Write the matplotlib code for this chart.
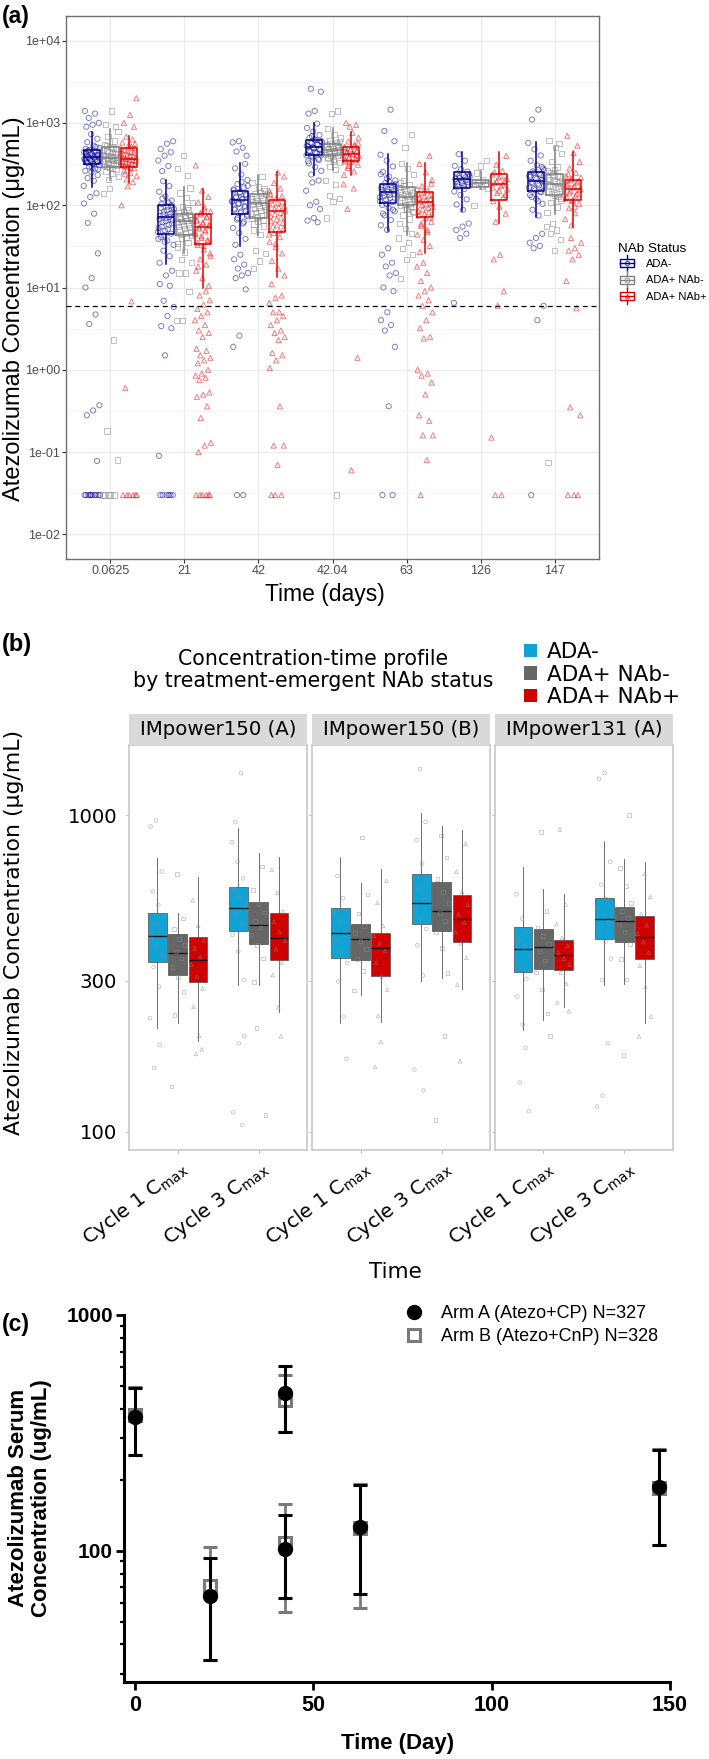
import matplotlib

matplotlib.use("Agg")
import matplotlib.pyplot as plt
import numpy as np
from matplotlib.legend_handler import HandlerBase
from matplotlib.lines import Line2D
from matplotlib.patches import Patch, Rectangle
from matplotlib.ticker import FixedLocator, NullLocator

plt.rcParams["font.family"] = ["Liberation Sans", "DejaVu Sans"]

FIG_W, FIG_H = 709, 1759  # pixels, dpi 100

# ---------------------------------------------------------------- panel (a)
A_TIMES = ["0.0625", "21", "42", "42.04", "63", "126", "147"]
STATUS = ["ADA-", "ADA+ NAb-", "ADA+ NAb+"]
A_YTICKS = [1e-2, 1e-1, 1e0, 1e1, 1e2, 1e3, 1e4]
A_YTICK_LABELS = ["1e-02", "1e-01", "1e+00", "1e+01", "1e+02", "1e+03", "1e+04"]
LLOQ = 6.0

# (q1, median, q3, whisker low, whisker high) per time point
A_BOX_ADANEG = [(320, 390, 470, 167, 776), (45, 72, 100, 19.5, 200), (79, 115, 150, 32, 324),
                (404, 510, 615, 230, 1000), (107, 145, 183, 48, 417), (162, 207, 253, 85, 444),
                (148, 197, 253, 72, 588)]
A_BOX_NABNEG = [(292, 380, 513, 200, 855), (43, 65, 79, 26, 166), (69, 105, 138, 43, 230),
                (404, 474, 562, 265, 860), (100, 126, 166, 43, 326), (166, 186, 200, 158, 260),
                (132, 183, 243, 79, 510)]
A_BOX_NABPOS = [(292, 360, 500, 186, 689), (34, 54, 78, 10, 158), (47, 85, 115, 13.4, 253),
                (345, 417, 510, 230, 776), (72, 108, 144, 26, 326), (117, 180, 238, 60, 444),
                (115, 159, 205, 55, 444)]

A_PTS_ADANEG = [
    [172, 198, 214, 233, 251, 262, 279, 296, 308, 321, 334, 347, 352, 366, 381, 389, 402, 417,
     431, 452, 468, 497, 531, 584, 642, 731, 1400, 1300, 1150, 1000, 950, 900, 140, 126, 105,
     79, 61, 26, 13, 10, 4.7, 3.6, 0.37, 0.32, 0.28, 0.078] + [0.03] * 10,
    [20, 24, 28, 33, 37, 41, 45, 49, 53, 58, 62, 66, 70, 74, 79, 84, 90, 96, 103, 114, 128, 146,
     171, 196, 600, 560, 480, 440, 400, 350, 300, 260, 16, 14, 11, 10.5, 6.9, 5.8, 4.5, 3.4,
     3.2, 1.5, 0.09] + [0.03] * 6,
    [33, 39, 46, 53, 60, 67, 74, 81, 88, 95, 103, 110, 117, 124, 132, 141, 151, 164, 181, 203,
     236, 281, 318, 600, 580, 500, 450, 400, 25, 22, 19, 17, 15, 14, 13, 9.5, 2.6, 1.9, 0.03,
     0.03],
    [236, 262, 291, 322, 354, 381, 405, 428, 451, 473, 495, 518, 541, 566, 592, 621, 659, 713,
     784, 871, 982, 2600, 2400, 1400, 1300, 200, 190, 150, 110, 100, 90, 70, 65, 62],
    [50, 57, 66, 75, 84, 93, 101, 109, 117, 125, 133, 141, 149, 157, 166, 175, 186, 201, 223,
     254, 296, 349, 411, 1450, 800, 600, 30, 25, 20, 18, 15, 14, 10, 9, 5, 4, 3.5, 3, 1.9,
     0.36, 0.03, 0.03],
    [88, 102, 118, 133, 147, 158, 168, 177, 186, 195, 204, 213, 222, 232, 243, 256, 274, 301,
     347, 418, 60, 55, 50, 45, 40, 6.5],
    [75, 88, 104, 119, 133, 146, 158, 170, 181, 192, 203, 215, 228, 242, 258, 279, 307, 348,
     402, 478, 571, 1450, 1100, 45, 40, 35, 32, 30, 6, 4, 0.03],
]
A_PTS_NABNEG = [
    [205, 221, 243, 259, 276, 288, 301, 317, 329, 346, 358, 372, 385, 398, 414, 436, 457, 482,
     511, 548, 603, 688, 794, 1400, 950, 900, 160, 140, 2.3, 0.18, 0.08] + [0.03] * 5,
    [27, 31, 35, 39, 43, 46, 50, 54, 57, 61, 65, 68, 72, 76, 81, 88, 97, 109, 124, 141, 162,
     400, 280, 230, 22, 20, 15, 15, 9, 4, 4],
    [44, 50, 56, 63, 69, 75, 82, 89, 95, 102, 108, 115, 122, 130, 139, 151, 167, 189, 222, 28,
     26, 21, 17],
    [271, 298, 327, 356, 382, 405, 426, 447, 466, 484, 505, 527, 551, 578, 611, 655, 722, 851,
     1400, 1300, 200, 180, 130, 120, 110, 70, 0.03],
    [45, 52, 60, 68, 76, 84, 92, 99, 106, 113, 120, 127, 135, 143, 152, 163, 178, 201, 236, 281,
     322, 730, 500, 40, 35, 30, 25, 22, 13],
    [161, 170, 178, 184, 189, 194, 203, 247, 350, 300, 100],
    [82, 95, 108, 121, 133, 146, 158, 170, 182, 194, 207, 222, 239, 261, 292, 338, 421, 503,
     615, 560, 60, 55, 50, 45, 38, 28, 0.075],
]
A_PTS_NABPOS = [
    [191, 207, 226, 248, 263, 281, 294, 306, 319, 333, 347, 358, 371, 389, 404, 423, 448, 472,
     498, 536, 578, 629, 681, 2000, 1250, 1000, 900, 170, 100, 6.8, 0.6] + [0.03] * 6,
    [10.5, 13, 16, 19, 22, 26, 29, 33, 36, 40, 44, 48, 52, 56, 60, 65, 71, 77, 84, 95, 108, 126,
     151, 305, 9, 8, 7, 6.2, 5.5, 5, 4.5, 4, 3.5, 3, 2.8, 2.5, 1.8, 1.7, 1.5, 1.4, 1.3, 1.2,
     1.0, 0.9, 0.85, 0.8, 0.75, 0.53, 0.5, 0.47, 0.36, 0.26, 0.13, 0.12, 0.1] + [0.03] * 6,
    [14, 17, 21, 26, 31, 36, 41, 46, 52, 58, 64, 71, 78, 86, 94, 103, 111, 122, 138, 159, 187,
     224, 250, 11, 8, 7.5, 6.5, 5, 5, 4.5, 4, 3.5, 3, 2.8, 2.5, 2.3, 1.6, 1.5, 1.3, 1.05, 0.36,
     0.12, 0.12, 0.07, 0.03, 0.03, 0.03],
    [234, 258, 284, 311, 336, 352, 371, 389, 406, 423, 441, 462, 486, 512, 547, 596, 664, 759,
     1000, 950, 900, 180, 160, 90, 1.4, 0.06],
    [27, 32, 38, 44, 50, 56, 63, 69, 75, 82, 89, 96, 103, 111, 119, 128, 138, 151, 171, 203,
     251, 318, 400, 20, 18, 15, 12, 10, 9, 8, 7, 6, 5, 4, 3.2, 2.5, 2.4, 1.0, 0.9, 0.85, 0.7,
     0.5, 0.28, 0.24, 0.16, 0.16, 0.08, 0.03],
    [63, 79, 96, 112, 126, 141, 156, 171, 186, 201, 218, 236, 262, 311, 398, 25, 22, 9, 6, 0.15,
     0.03, 0.03],
    [57, 68, 80, 92, 104, 115, 126, 137, 148, 159, 170, 182, 195, 209, 226, 248, 281, 336, 431,
     700, 530, 40, 35, 30, 28, 25, 22, 12, 5.6, 0.35, 0.28, 0.03, 0.03, 0.03],
]
# further readings inside the densely packed middle of each cloud
A_CORE_ADANEG = [
    [312, 327, 338, 343, 356, 361, 373, 378, 394, 398, 409, 423, 438, 446, 461, 274, 289, 483, 512],
    [43, 47, 51, 55, 60, 64, 68, 72, 77, 82, 87, 93, 99, 36, 39, 108, 121],
    [77, 84, 91, 98, 106, 113, 120, 127, 136, 145, 156, 63, 70, 172, 192],
    [398, 412, 437, 459, 481, 503, 526, 551, 578, 604, 633, 343, 367, 688],
    [104, 112, 121, 129, 137, 145, 153, 161, 170, 180, 193, 79, 88, 213, 238],
    [171, 182, 191, 200, 209, 218, 227, 238],
    [144, 152, 163, 174, 186, 198, 209, 221, 235, 249, 267, 112, 126, 291],
]
A_CORE_NABNEG = [
    [282, 295, 309, 323, 337, 351, 365, 378, 392, 406, 421, 444, 469, 497, 528],
    [41, 44, 48, 52, 55, 59, 63, 66, 70, 74, 78, 84, 34, 93],
    [66, 72, 79, 86, 92, 98, 105, 112, 119, 126, 134, 143, 59, 158],
    [398, 415, 431, 452, 471, 492, 516, 539, 566, 594, 341, 369],
    [96, 103, 110, 117, 124, 131, 139, 147, 157, 171, 81, 88, 190],
    [],
    [128, 139, 151, 164, 176, 188, 201, 214, 229, 248, 116, 271],
]
A_CORE_NABPOS = [
    [286, 299, 313, 326, 340, 353, 366, 381, 396, 412, 436, 461, 487, 517, 242, 557],
    [32, 35, 38, 42, 46, 50, 54, 58, 62, 67, 73, 80, 24, 89, 18],
    [44, 49, 55, 61, 67, 74, 81, 89, 97, 106, 118, 129, 34, 148],
    [341, 357, 378, 397, 414, 431, 451, 473, 496, 523, 301, 566],
    [71, 78, 85, 93, 100, 107, 115, 123, 132, 143, 158, 47, 59, 183],
    [133, 149, 164, 178, 193, 209, 226, 251],
    [112, 121, 131, 142, 153, 164, 176, 188, 201, 217, 96, 238],
]

# ---------------------------------------------------------------- panel (b)
B_PANELS = ["IMpower150 (A)", "IMpower150 (B)", "IMpower131 (A)"]
B_XLABELS = ["Cycle 1 C$_{\\mathregular{max}}$", "Cycle 3 C$_{\\mathregular{max}}$"]
B_YTICKS = [100, 300, 1000]

# [panel][cycle] -> (q1, median, q3, whisker low, whisker high)
B_BOX_ADANEG = [[(344, 415, 492, 212, 733), (431, 509, 592, 290, 908)],
                [(353, 424, 509, 220, 735), (452, 526, 652, 298, 1016)],
                [(319, 378, 442, 209, 684), (407, 470, 546, 290, 830)]]
B_BOX_NABNEG = [[(312, 367, 421, 221, 492), (392, 450, 532, 290, 760)],
                [(348, 405, 453, 270, 611), (431, 498, 614, 305, 925)],
                [(327, 382, 435, 225, 582), (398, 463, 514, 292, 724)]]
B_BOX_NABPOS = [[(297, 348, 411, 194, 635), (348, 408, 490, 239, 738)],
                [(310, 381, 424, 222, 676), (398, 469, 559, 282, 897)],
                [(324, 361, 403, 248, 562), (351, 411, 480, 221, 713)]]

B_PTS_ADANEG = [
    [[228, 287, 331, 362, 388, 407, 429, 456, 478, 521, 574, 662, 960, 920, 188, 159],
     [302, 371, 418, 452, 489, 517, 548, 583, 631, 712, 821, 1357, 950, 200, 190, 115, 105]],
    [[231, 298, 341, 371, 402, 431, 462, 497, 546, 641, 170],
     [311, 388, 437, 472, 509, 541, 583, 631, 702, 833, 951, 1397, 157, 135]],
    [[218, 267, 304, 332, 357, 381, 402, 428, 471, 562, 184, 143, 116],
     [301, 352, 398, 431, 459, 482, 511, 542, 603, 712, 1357, 1300, 190, 130, 120]],
]
B_PTS_NABNEG = [
    [[234, 276, 308, 331, 352, 371, 389, 406, 437, 471, 650, 139],
     [297, 352, 389, 418, 441, 463, 492, 524, 581, 688, 212, 113]],
    [[279, 322, 351, 378, 401, 424, 447, 489, 561, 850],
     [317, 381, 426, 462, 491, 527, 572, 628, 734, 862, 109, 200]],
    [[236, 281, 318, 347, 371, 392, 414, 441, 497, 886, 200],
     [302, 351, 392, 428, 451, 472, 497, 528, 598, 681, 1000, 175]],
]
B_PTS_NABPOS = [
    [[201, 248, 283, 309, 337, 356, 379, 402, 447, 538, 182, 176],
     [247, 312, 341, 377, 402, 428, 461, 497, 569, 671, 200]],
    [[232, 281, 309, 341, 372, 393, 415, 447, 528, 619, 192, 160],
     [291, 354, 392, 427, 458, 486, 521, 571, 662, 811, 167]],
    [[256, 293, 318, 337, 352, 368, 387, 409, 452, 521, 900, 240],
     [231, 287, 334, 368, 397, 421, 449, 487, 551, 652, 200]],
]

# ---------------------------------------------------------------- panel (c)
C_DAY = [0.0625, 21, 42, 42.04, 63, 147]
C_ARM_A_MEAN = [370, 64, 102, 465, 126, 186]
C_ARM_A_LOW = [255, 34.4, 62.8, 320, 65.5, 106]
C_ARM_A_HIGH = [489, 93.4, 142, 608, 190, 267]
C_ARM_B_MEAN = [376, 70.5, 108, 435, 125, 185]
C_ARM_B_LOW = [255, 34.4, 55, 320, 57, 106]
C_ARM_B_HIGH = [494, 104, 158, 556, 191, 270]
C_LABELS = ["Arm A (Atezo+CP) N=327", "Arm B (Atezo+CnP) N=328"]

A_COLORS = ["#00008B", "#808080", "#E00000"]
B_COLORS = ["#0FA3D6", "#666666", "#D00000"]
MARKERS = ["o", "s", "^"]
DODGE = 0.25


def rect(left, top, right, bottom):
    return [left / FIG_W, 1 - bottom / FIG_H, (right - left) / FIG_W, (bottom - top) / FIG_H]


def fx(px):
    return px / FIG_W


def fy(py):
    return 1 - py / FIG_H


def jitter(n, half_width, phase):
    k = np.arange(n)
    return ((k * 0.618034 + phase) % 1.0 - 0.5) * 2 * half_width


def box_stats(t):
    q1, med, q3, lo, hi = t
    return dict(q1=q1, med=med, q3=q3, whislo=lo, whishi=hi, fliers=[])


class BoxKey(HandlerBase):
    def create_artists(self, legend, orig_handle, xdescent, ydescent, width, height, fontsize, trans):
        c = orig_handle.get_color()
        x0, y0 = -xdescent, -ydescent
        cx = x0 + width / 2
        kw = dict(color=c, lw=1.0, transform=trans)
        box = Rectangle((x0 + 0.1 * width, y0 + 0.25 * height), 0.8 * width, 0.5 * height,
                        facecolor="white", edgecolor=c, lw=1.0, transform=trans)
        return [
            box,
            Line2D([cx, cx], [y0, y0 + 0.25 * height], **kw),
            Line2D([cx, cx], [y0 + 0.75 * height, y0 + height], **kw),
            Line2D([x0 + 0.1 * width, x0 + 0.9 * width], [y0 + 0.5 * height] * 2, **kw),
            Line2D([cx], [y0 + 0.5 * height], marker=orig_handle.get_marker(), ms=3,
                   mfc="none", mec=c, alpha=0.6, transform=trans),
        ]


fig = plt.figure(figsize=(FIG_W / 100, FIG_H / 100), dpi=100)

# ================================================================ (a)
ax_a = fig.add_axes(rect(66, 16, 599, 559))
ax_a.set_yscale("log")
a_boxes = [A_BOX_ADANEG, A_BOX_NABNEG, A_BOX_NABPOS]
a_points = [A_PTS_ADANEG, A_PTS_NABNEG, A_PTS_NABPOS]
a_core = [A_CORE_ADANEG, A_CORE_NABNEG, A_CORE_NABPOS]
for i in range(len(A_TIMES)):
    for j in range(len(STATUS)):
        pos = i + (j - 1) * DODGE
        vals = np.asarray(a_points[j][i] + a_core[j][i], dtype=float)
        xs = pos + jitter(len(vals), 0.11, 0.37 * (3 * i + j))
        ax_a.scatter(xs, vals, marker=MARKERS[j], facecolors="none", edgecolors=A_COLORS[j],
                     s=14, linewidths=0.7, alpha=0.5, zorder=2)
        props = dict(color=A_COLORS[j], linewidth=1.1)
        ax_a.bxp([box_stats(a_boxes[j][i])], positions=[pos], widths=0.22, showcaps=False,
                 showfliers=False, boxprops=props, whiskerprops=props, medianprops=props,
                 manage_ticks=False, zorder=3)

ax_a.axhline(LLOQ, color="black", lw=0.9, ls=(0, (4, 3)), zorder=4)
ax_a.set_xlim(-0.6, len(A_TIMES) - 0.4)
ax_a.set_ylim(10 ** -2.3, 10 ** 4.3)
ax_a.set_xticks(range(len(A_TIMES)))
ax_a.set_xticklabels(A_TIMES)
ax_a.set_yticks(A_YTICKS)
ax_a.set_yticklabels(A_YTICK_LABELS)
ax_a.yaxis.set_minor_locator(FixedLocator([10 ** (k + 0.5) for k in range(-2, 4)]))
ax_a.tick_params(which="minor", length=0)
ax_a.tick_params(which="major", length=2.8, width=0.8, color="#333333", labelsize=9,
                 labelcolor="#4D4D4D", pad=1.5)
ax_a.grid(which="major", color="#EBEBEB", lw=0.9)
ax_a.grid(which="minor", axis="y", color="#F4F4F4", lw=0.6)
ax_a.set_axisbelow(True)
for sp in ax_a.spines.values():
    sp.set_color("#707070")
    sp.set_linewidth(1.0)

a_handles = [Line2D([], [], color=A_COLORS[j], marker=MARKERS[j], label=STATUS[j])
             for j in range(3)]
fig.legend(handles=a_handles, loc="upper left", bbox_to_anchor=(fx(618), fy(243)),
           handler_map={Line2D: BoxKey()}, frameon=False, fontsize=8, title="NAb Status",
           title_fontsize=9.7, alignment="left", handlelength=1.6, handleheight=1.9,
           handletextpad=0.9, labelspacing=0.0, borderpad=0, borderaxespad=0)

fig.text(fx(2), fy(16), "(a)", fontsize=16.5, fontweight="bold", va="center")
fig.text(fx(14), fy(309), "Atezolizumab Concentration (\u03bcg/mL)", rotation=90,
         fontsize=17, ha="center", va="center")
fig.text(fx(325), fy(595), "Time (days)", fontsize=16.5, ha="center", va="center")

# ================================================================ (b)
b_boxes = [B_BOX_ADANEG, B_BOX_NABNEG, B_BOX_NABPOS]
b_points = [B_PTS_ADANEG, B_PTS_NABNEG, B_PTS_NABPOS]
b_font = dict(family="DejaVu Sans")
panel_w, panel_gap = 178.3, 4.6
for p, name in enumerate(B_PANELS):
    left = 129 + p * (panel_w + panel_gap)
    ax = fig.add_axes(rect(left, 745, left + panel_w, 1150))
    ax.set_yscale("log")
    for c in range(len(B_XLABELS)):
        for j in range(len(STATUS)):
            pos = c + (j - 1) * DODGE
            ax.bxp([box_stats(b_boxes[j][p][c])], positions=[pos], widths=0.23,
                   patch_artist=True, showcaps=False, showfliers=False,
                   boxprops=dict(facecolor=B_COLORS[j], edgecolor="#4D4D4D", linewidth=0.5),
                   whiskerprops=dict(color="#555555", linewidth=0.6),
                   medianprops=dict(color="#1A1A1A", linewidth=1.0),
                   manage_ticks=False, zorder=2)
            vals = np.asarray(b_points[j][p][c], dtype=float)
            xs = pos + jitter(len(vals), 0.09, 0.29 * (6 * p + 3 * c + j))
            ax.scatter(xs, vals, marker=MARKERS[j], facecolors="none", edgecolors="#8C8C8C",
                       s=7, linewidths=0.5, alpha=0.6, zorder=3)
    ax.set_xlim(-0.6, 1.6)
    ax.set_ylim(87.5, 1664)
    ax.set_yticks(B_YTICKS)
    ax.yaxis.set_minor_locator(NullLocator())
    ax.set_xticks(range(len(B_XLABELS)))
    ax.set_xticklabels(B_XLABELS, rotation=37, ha="right", rotation_mode="anchor",
                       fontsize=14.2, **b_font)
    if p == 0:
        ax.set_yticklabels([str(v) for v in B_YTICKS], fontsize=14.2, **b_font)
    else:
        ax.set_yticklabels([])
    ax.tick_params(length=2.5, width=0.6, color="#AAAAAA", pad=2)
    ax.tick_params(axis="y", pad=6)
    for sp in ax.spines.values():
        sp.set_color("#C8C8C8")
        sp.set_linewidth(1.2)

    strip = fig.add_axes(rect(left, 714, left + panel_w, 745))
    strip.set_facecolor("#D9D9D9")
    strip.set_xticks([])
    strip.set_yticks([])
    for sp in strip.spines.values():
        sp.set_visible(False)
    strip.text(0.5, 0.5, name, ha="center", va="center", fontsize=14.2,
               transform=strip.transAxes, **b_font)

fig.text(fx(2), fy(644), "(b)", fontsize=17, fontweight="bold", va="center")
fig.text(fx(313), fy(670), "Concentration-time profile\nby treatment-emergent NAb status",
         ha="center", va="center", fontsize=14.8, linespacing=1.15, **b_font)
fig.text(fx(14), fy(932), "Atezolizumab Concentration (\u03bcg/mL)", rotation=90,
         fontsize=15.8, ha="center", va="center", **b_font)
fig.text(fx(395), fy(1272), "Time", fontsize=15.5, ha="center", va="center", **b_font)
b_handles = [Patch(facecolor=B_COLORS[j], edgecolor="none", label=STATUS[j]) for j in range(3)]
fig.legend(handles=b_handles, loc="upper left", bbox_to_anchor=(fx(524), fy(642)),
           frameon=False, prop=dict(family="DejaVu Sans", size=15.5), handlelength=0.6,
           handleheight=0.6, handletextpad=0.45, labelspacing=0.12, borderpad=0,
           borderaxespad=0)

# ================================================================ (c)
ax_c = fig.add_axes(rect(124, 1315, 670, 1681.7))
ax_c.set_yscale("log")
b_err = [np.subtract(C_ARM_B_MEAN, C_ARM_B_LOW), np.subtract(C_ARM_B_HIGH, C_ARM_B_MEAN)]
a_err = [np.subtract(C_ARM_A_MEAN, C_ARM_A_LOW), np.subtract(C_ARM_A_HIGH, C_ARM_A_MEAN)]
ax_c.errorbar(C_DAY, C_ARM_B_MEAN, yerr=b_err, fmt="s", ms=9, mfc="none", mec="#7A7A7A",
              mew=2.2, ecolor="#7A7A7A", elinewidth=2.0, capsize=5, capthick=2.0, zorder=2)
ax_c.errorbar(C_DAY, C_ARM_A_MEAN, yerr=a_err, fmt="o", ms=10, color="black",
              elinewidth=2.2, capsize=5, capthick=2.2, zorder=3)
ax_c.set_xlim(-3.1, 150)
ax_c.set_ylim(27.8, 1000)
ax_c.set_xticks([0, 50, 100, 150])
ax_c.set_xticklabels(["0", "50", "100", "150"], fontweight="bold", fontsize=15.5)
ax_c.set_yticks([100, 1000])
ax_c.set_yticklabels(["100", "1000"], fontweight="bold", fontsize=15)
ax_c.yaxis.set_minor_locator(FixedLocator([30, 40, 50, 60, 70, 80, 90,
                                           200, 300, 400, 500, 600, 700, 800, 900]))
ax_c.tick_params(which="major", length=5.5, width=2, pad=2.5)
ax_c.tick_params(axis="x", pad=4)
ax_c.tick_params(which="minor", length=3.2, width=1.6)
for side in ("top", "right"):
    ax_c.spines[side].set_visible(False)
for side in ("left", "bottom"):
    ax_c.spines[side].set_linewidth(2.2)

c_handles = [Line2D([], [], ls="none", marker="o", ms=10, color="black", label=C_LABELS[0]),
             Line2D([], [], ls="none", marker="s", ms=9, mfc="none", mec="#7A7A7A", mew=2.2,
                    label=C_LABELS[1])]
fig.legend(handles=c_handles, loc="upper left", bbox_to_anchor=(fx(405), fy(1305)),
           frameon=False, fontsize=13, handlelength=1.0, handletextpad=1.0,
           labelspacing=0.35, borderpad=0, borderaxespad=0)

fig.text(fx(2), fy(1325), "(c)", fontsize=16.5, fontweight="bold", va="center")
fig.text(fx(30), fy(1498), "Atezolizumab Serum\nConcentration (ug/mL)", rotation=90,
         fontsize=16, fontweight="bold", ha="center", va="center", linespacing=1.1)
fig.text(fx(398), fy(1743), "Time (Day)", fontsize=16, fontweight="bold", ha="center",
         va="center")

fig.savefig("out.png", dpi=100)
